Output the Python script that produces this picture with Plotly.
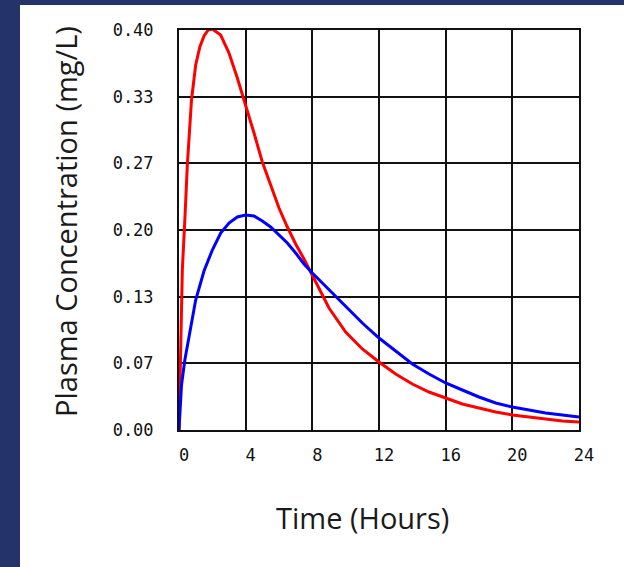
import plotly.graph_objects as go

# Data
t_red = [0, 0.1, 0.2, 0.35, 0.5, 0.75, 1.0, 1.25, 1.5, 1.75, 2.0, 2.5, 3.0, 3.5, 4.0,
         4.5, 5.0, 5.5, 6.0, 6.5, 7.0, 7.5, 8.0, 9.0, 10.0, 11.0, 12.0, 13.0, 14.0,
         15.0, 16.0, 17.0, 18.0, 19.0, 20.0, 21.0, 22.0, 23.0, 24.0]
conc_red = [0, 0.09, 0.16, 0.21, 0.265, 0.33, 0.365, 0.383, 0.394, 0.400, 0.401, 0.395,
            0.377, 0.352, 0.325, 0.297, 0.268, 0.244, 0.222, 0.203, 0.186, 0.171, 0.155,
            0.122, 0.098, 0.081, 0.068, 0.056, 0.046, 0.038, 0.032, 0.026, 0.022, 0.018,
            0.015, 0.013, 0.011, 0.009, 0.008]

t_blue = [0, 0.15, 0.35, 0.65, 1.0, 1.5, 2.0, 2.5, 3.0, 3.5, 4.0, 4.5, 5.0, 5.5, 6.0,
          6.5, 7.0, 7.5, 8.0, 9.0, 10.0, 11.0, 12.0, 13.0, 14.0, 15.0, 16.0, 17.0,
          18.0, 19.0, 20.0, 21.0, 22.0, 23.0, 24.0]
conc_blue = [0, 0.045, 0.07, 0.097, 0.13, 0.159, 0.180, 0.197, 0.207, 0.213, 0.215,
             0.214, 0.209, 0.203, 0.195, 0.187, 0.177, 0.166, 0.157, 0.140, 0.123,
             0.107, 0.092, 0.079, 0.066, 0.056, 0.047, 0.040, 0.033, 0.027, 0.023,
             0.020, 0.017, 0.015, 0.013]

x_tick_vals = [0, 4, 8, 12, 16, 20, 24]
x_tick_text = ["0", "4", "8", "12", "16", "20", "24"]
y_tick_vals = [0, 0.0667, 0.1333, 0.2, 0.2667, 0.3333, 0.4]
y_tick_text = ["0.00", "0.07", "0.13", "0.20", "0.27", "0.33", "0.40"]

x_title = "Time (Hours)"
y_title = "Plasma Concentration (mg/L)"

fig = go.Figure()
fig.add_trace(go.Scatter(x=t_red, y=conc_red, mode="lines",
                         line=dict(color="#ff0000", width=3), showlegend=False))
fig.add_trace(go.Scatter(x=t_blue, y=conc_blue, mode="lines",
                         line=dict(color="#0000ff", width=3), showlegend=False))

W, H = 624, 567
L, R, T, B = 179, 45, 30, 137
pw, ph = W - L - R, H - T - B

def px_x(p):
    return (p - L) / pw

def px_y(p):
    return (H - B - p) / ph

# white panel on navy background
fig.add_shape(type="rect", xref="paper", yref="paper",
              x0=px_x(20), x1=px_x(640), y0=px_y(580), y1=px_y(5),
              fillcolor="white", line=dict(width=0), layer="below")

tick_font = dict(family="DejaVu Sans Mono", size=17, color="#111111")
axis_common = dict(showgrid=True, gridcolor="#111111", gridwidth=2,
                   showline=True, linecolor="#111111", linewidth=2, mirror=True,
                   zeroline=False, ticks="", tickfont=tick_font, fixedrange=True)

fig.update_xaxes(range=[0, 24], tickvals=x_tick_vals, ticktext=x_tick_text,
                 ticklabelstandoff=9, ticklabelshift=5, **axis_common)
fig.update_yaxes(range=[0, 0.4], tickvals=y_tick_vals, ticktext=y_tick_text,
                 ticklabelstandoff=20, **axis_common)

title_font = dict(family="Open Sans", size=29, color="#1a1a1a")
fig.add_annotation(text=x_title, xref="paper", yref="paper",
                   x=px_x(362), y=px_y(517), showarrow=False,
                   xanchor="center", yanchor="middle", font=title_font)
fig.add_annotation(text=y_title, xref="paper", yref="paper",
                   x=px_x(65), y=px_y(222), showarrow=False, textangle=-90,
                   xanchor="center", yanchor="middle", font=title_font)

fig.update_layout(width=W, height=H, margin=dict(l=L, r=R, t=T, b=B),
                  paper_bgcolor="#24346a", plot_bgcolor="white")

fig.write_html("out.html", config={"displayModeBar": False},
               post_script="document.body.style.margin='0';"
                           "document.body.style.background='#24346a';")
